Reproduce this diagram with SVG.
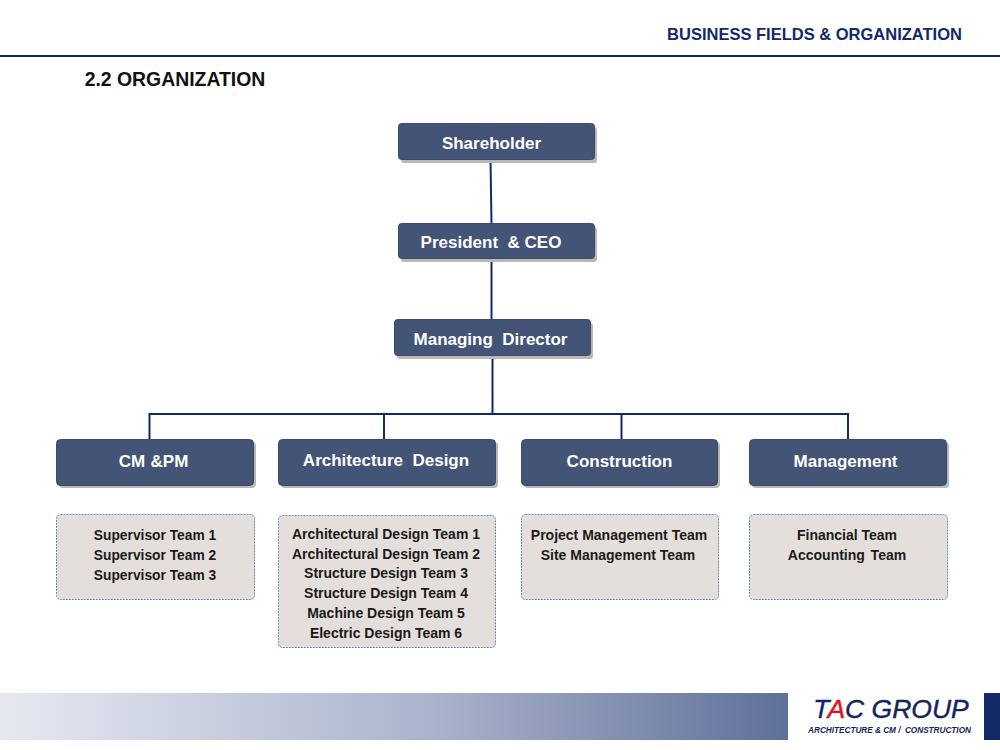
<svg xmlns="http://www.w3.org/2000/svg" width="1000" height="750" viewBox="0 0 1000 750">
<style>
text{font-family:"Liberation Sans",Arial,sans-serif;font-weight:700;text-anchor:middle}
.box{fill:#435476;stroke:#3a4b6e;stroke-width:1}
.shade{fill:#b8b8b4}
.nl{fill:#fff;font-size:17px}
.team{fill:#e5dfdb;stroke:#5f8cc0;stroke-width:1;stroke-dasharray:2 1}
.tl{fill:#1a1a1a;font-size:14px}
.wire{fill:none;stroke:#0f2a66;stroke-width:2}
</style>
<defs>
<linearGradient id="band" x1="0" x2="1" y1="0" y2="0">
<stop offset="0" stop-color="#e6e9f1"/>
<stop offset="0.55" stop-color="#aab3cc"/>
<stop offset="1" stop-color="#5f7099"/>
</linearGradient>
</defs>
<rect width="1000" height="750" fill="#fff"/>
<!-- page header -->
<text x="814.500" y="40" font-size="16.500" fill="#12296b">BUSINESS FIELDS &amp; ORGANIZATION</text>
<rect x="0" y="55" width="1000" height="2" fill="#16265f"/>
<text x="175" y="86" font-size="19.400" fill="#111">2.2 ORGANIZATION</text>
<!-- connectors -->
<g id="connectors">
<path class="wire" d="M490.500 160L491.500 224"/>
<path class="wire" d="M491.500 259V320"/>
<path class="wire" d="M492.500 355V414"/>
<path class="wire" d="M149.500 440V414H848V440"/>
<path class="wire" d="M384 414V440"/>
<path class="wire" d="M621.500 414V440"/>
</g>
<!-- upper nodes -->
<g id="shareholder"><rect class="shade" x="401" y="127" width="196" height="36" rx="3"/><rect class="box" x="398.500" y="123.500" width="196" height="36" rx="3"/><text class="nl" x="491.500" y="149">Shareholder</text></g>
<g id="president"><rect class="shade" x="401" y="227" width="196" height="35" rx="3"/><rect class="box" x="398.500" y="223.500" width="196" height="35" rx="3"/><text class="nl" x="491" y="248" xml:space="preserve">President  &amp; CEO</text></g>
<g id="managing"><rect class="shade" x="397" y="323" width="196" height="36" rx="3"/><rect class="box" x="394.500" y="319.500" width="196" height="36" rx="3"/><text class="nl" x="490.500" y="345" xml:space="preserve">Managing  Director</text></g>
<!-- department heads -->
<g id="cm-pm"><rect class="shade" x="59" y="442" width="197" height="46" rx="4"/><rect class="box" x="56.500" y="439.500" width="197" height="46" rx="4"/><text class="nl" x="153.500" y="467" xml:space="preserve" word-spacing="-2">CM  &amp;PM</text></g>
<g id="architecture"><rect class="shade" x="281" y="442" width="217" height="46" rx="4"/><rect class="box" x="278.500" y="439.500" width="217" height="46" rx="4"/><text class="nl" x="386" y="466" xml:space="preserve">Architecture  Design</text></g>
<g id="construction"><rect class="shade" x="524" y="442" width="196" height="46" rx="4"/><rect class="box" x="521.500" y="439.500" width="196" height="46" rx="4"/><text class="nl" x="619.500" y="467">Construction</text></g>
<g id="management"><rect class="shade" x="752" y="442" width="197" height="46" rx="4"/><rect class="box" x="749.500" y="439.500" width="197" height="46" rx="4"/><text class="nl" x="845.500" y="467">Management</text></g>
<!-- team lists -->
<g id="teams-cm"><rect class="team" x="56.500" y="514.500" width="198" height="85" rx="4"/>
<text class="tl" x="155" y="540" font-size="14" style="font-size:13.800px">Supervisor Team 1</text>
<text class="tl" x="155" y="560" style="font-size:13.800px">Supervisor Team 2</text>
<text class="tl" x="155" y="580" style="font-size:13.800px">Supervisor Team 3</text></g>
<g id="teams-arch"><rect class="team" x="278.500" y="515.500" width="217" height="132" rx="4"/>
<text class="tl" x="386" y="539">Architectural Design Team 1</text>
<text class="tl" x="386" y="559">Architectural Design Team 2</text>
<text class="tl" x="386" y="578">Structure Design Team 3</text>
<text class="tl" x="386" y="598">Structure Design Team 4</text>
<text class="tl" x="386" y="618">Machine Design Team 5</text>
<text class="tl" x="386" y="638">Electric Design Team 6</text></g>
<g id="teams-construction"><rect class="team" x="521.500" y="514.500" width="197" height="85" rx="4"/>
<text class="tl" x="619" y="540">Project Management Team</text>
<text class="tl" x="618" y="560">Site Management Team</text></g>
<g id="teams-management"><rect class="team" x="749.500" y="514.500" width="198" height="85" rx="4"/>
<text class="tl" x="847" y="540">Financial Team</text>
<text class="tl" x="847" y="560" word-spacing="-1" xml:space="preserve">Accounting  Team</text></g>
<!-- footer band and logo -->
<rect x="0" y="693" width="788" height="47" fill="url(#band)"/>
<rect x="984" y="693" width="16" height="47" fill="#122a66"/>
<text x="891" y="718" font-size="26.500" style="font-weight:400;font-style:italic" fill="#14245c" stroke="#14245c" stroke-width="0.400">T<tspan fill="#e0141c" stroke="#e0141c">A</tspan>C GROUP</text>
<text x="889.500" y="733" font-size="8.200" style="font-style:italic" fill="#14245c" xml:space="preserve">ARCHITECTURE &amp; CM /  CONSTRUCTION</text>
</svg>
